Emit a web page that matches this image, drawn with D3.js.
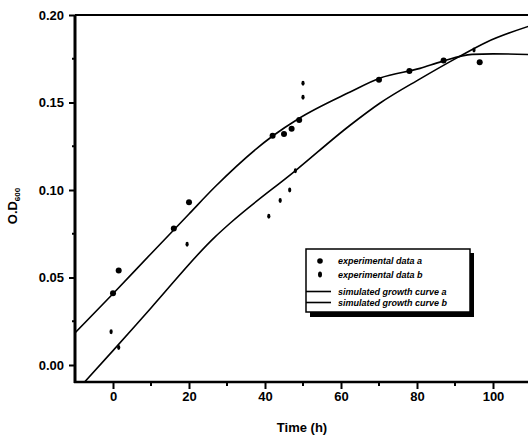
<!DOCTYPE html>
<html>
<head>
<meta charset="utf-8">
<script src="https://cdn.jsdelivr.net/npm/d3@7/dist/d3.min.js"></script>
<style>
  html, body { margin: 0; padding: 0; background: #fff; }
  svg { display: block; }
  text { font-family: "Liberation Sans", Arial, sans-serif; fill: #000; }
</style>
</head>
<body>
<svg id="chart" width="528" height="438"></svg>
<script>
// ---- data ----
const xTicks = [0, 20, 40, 60, 80, 100];
const yTicks = [0.00, 0.05, 0.10, 0.15, 0.20];

// experimental series a (filled circles)
const seriesATime  = [0, 1.5, 16, 20, 42, 45, 47, 49, 70, 78, 87, 96.5];
const seriesAValue = [0.041, 0.054, 0.078, 0.093, 0.131, 0.132, 0.135, 0.140, 0.163, 0.168, 0.174, 0.173];

// experimental series b (small marks)
const seriesBTime  = [-0.5, 1.5, 19.5, 41, 44, 46.5, 48, 50, 50, 95];
const seriesBValue = [0.019, 0.010, 0.069, 0.085, 0.094, 0.100, 0.111, 0.153, 0.161, 0.180];

// fitted curve a (upper at start)
const curveATime  = [-10, 0, 10, 20, 26.8, 42.1, 48.7, 62.4, 70.3, 80.8, 86.6, 94.5, 100, 110];
const curveAValue = [0.0183, 0.0407, 0.0636, 0.0863, 0.1017, 0.131, 0.1406, 0.156, 0.164, 0.1695, 0.1735, 0.1775, 0.1778, 0.1774];

// fitted curve b (lower at start)
const curveBTime  = [-7.6, 0, 10, 26.8, 30.8, 48.2, 62.4, 70.3, 80.8, 90.5, 98.4, 110];
const curveBValue = [-0.0100, 0.0082, 0.0326, 0.0731, 0.0810, 0.1114, 0.137, 0.1497, 0.1635, 0.1755, 0.1846, 0.1940];

const legendLabels = ["experimental data a", "experimental data b", "simulated growth curve a", "simulated growth curve b"];

// ---- drawing ----
const svg = d3.select("#chart");
const x = d3.scaleLinear().domain([-10, 110]).range([75, 531]);
const y = d3.scaleLinear().domain([-0.01, 0.20]).range([382.5, 15]);

svg.append("defs").append("clipPath").attr("id", "clip")
  .append("rect").attr("x", 75).attr("y", 15).attr("width", 456).attr("height", 367.5);

// frame: top line
svg.append("line").attr("x1", 75).attr("x2", 528).attr("y1", 15).attr("y2", 15)
  .attr("stroke", "#000").attr("stroke-width", 2);

// minor ticks
const yMinor = [-0.0, 0.025, 0.075, 0.125, 0.175];
svg.append("g").selectAll("line").data([0.025, 0.075, 0.125, 0.175]).join("line")
  .attr("x1", 72).attr("x2", 75).attr("y1", d => y(d)).attr("y2", d => y(d))
  .attr("stroke", "#000").attr("stroke-width", 2);
svg.append("g").selectAll("line").data([10, 30, 50, 70, 90]).join("line")
  .attr("x1", d => x(d)).attr("x2", d => x(d)).attr("y1", 382).attr("y2", 386)
  .attr("stroke", "#000").attr("stroke-width", 2);

// y axis
const yAxis = svg.append("g").attr("transform", "translate(75,0)")
  .call(d3.axisLeft(y).tickValues(yTicks).tickFormat(d3.format(".2f")).tickSize(6).tickPadding(5));
yAxis.select(".domain").attr("stroke-width", 3).attr("d", "M0,15V383");
yAxis.selectAll(".tick line").attr("stroke-width", 2);
yAxis.selectAll("text").style("font-size", "13px").style("font-weight", "bold").attr("fill", "#000");

// x axis
const xAxis = svg.append("g").attr("transform", "translate(0,382)")
  .call(d3.axisBottom(x).tickValues(xTicks).tickFormat(d3.format("d")).tickSize(7).tickPadding(3));
xAxis.select(".domain").attr("stroke-width", 2.5).attr("d", "M74,0H528");
xAxis.selectAll(".tick line").attr("stroke-width", 2);
xAxis.selectAll("text").style("font-size", "13px").style("font-weight", "bold").attr("fill", "#000");

// axis titles
svg.append("text").attr("x", 302).attr("y", 432).attr("text-anchor", "middle")
  .style("font-size", "13px").style("font-weight", "bold").text("Time (h)");
const yt = svg.append("text").attr("transform", "translate(17,206) rotate(-90)")
  .attr("text-anchor", "middle").style("font-size", "13px").style("font-weight", "bold");
yt.append("tspan").text("O.D");
yt.append("tspan").attr("dy", 3).style("font-size", "8px").text("600");

// curves
const plot = svg.append("g").attr("clip-path", "url(#clip)");
const line = d3.line().x(d => x(d[0])).y(d => y(d[1])).curve(d3.curveMonotoneX);
const curveA = curveATime.map((t, i) => [t, curveAValue[i]]);
const curveB = curveBTime.map((t, i) => [t, curveBValue[i]]);
plot.append("path").attr("d", line(curveA)).attr("fill", "none").attr("stroke", "#000").attr("stroke-width", 1.6);
plot.append("path").attr("d", line(curveB)).attr("fill", "none").attr("stroke", "#000").attr("stroke-width", 1.6);

// points
plot.append("g").selectAll("circle").data(seriesATime.map((t, i) => [t, seriesAValue[i]])).join("circle")
  .attr("cx", d => x(d[0])).attr("cy", d => y(d[1])).attr("r", 3).attr("fill", "#000");
plot.append("g").selectAll("ellipse").data(seriesBTime.map((t, i) => [t, seriesBValue[i]])).join("ellipse")
  .attr("cx", d => x(d[0])).attr("cy", d => y(d[1])).attr("rx", 1.6).attr("ry", 2.4).attr("fill", "#000");

// legend
const lg = svg.append("g");
lg.append("rect").attr("x", 310).attr("y", 253).attr("width", 164).attr("height", 64).attr("fill", "#000");
lg.append("rect").attr("x", 306).attr("y", 249).attr("width", 164).attr("height", 63)
  .attr("fill", "#fff").attr("stroke", "#000").attr("stroke-width", 1.5);
const rowsY = [261, 274.5, 291.5, 302.5];
lg.append("circle").attr("cx", 320).attr("cy", rowsY[0]).attr("r", 2.8).attr("fill", "#000");
lg.append("ellipse").attr("cx", 320).attr("cy", rowsY[1]).attr("rx", 2).attr("ry", 3).attr("fill", "#000");
[2, 3].forEach(i => lg.append("line").attr("x1", 306).attr("x2", 331)
  .attr("y1", rowsY[i]).attr("y2", rowsY[i]).attr("stroke", "#000").attr("stroke-width", 1.6));
lg.selectAll("text.lab").data(legendLabels).join("text").attr("class", "lab")
  .attr("x", 338).attr("y", (d, i) => rowsY[i] + 3)
  .style("font-size", "9px").style("font-weight", "bold").style("font-style", "italic")
  .text(d => d);
</script>
</body>
</html>
